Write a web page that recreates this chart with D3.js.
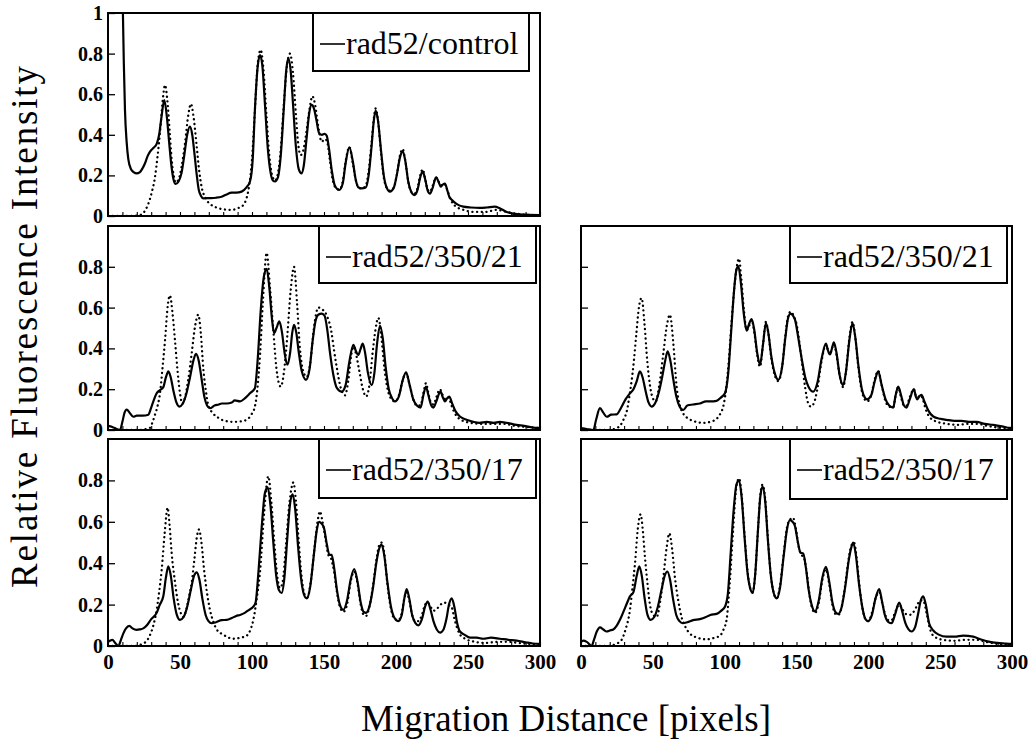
<!DOCTYPE html>
<html><head><meta charset="utf-8">
<script src="https://cdn.jsdelivr.net/npm/d3@7"></script>
<style>
html,body{margin:0;padding:0;background:#fff;}
svg{display:block;}
</style></head>
<body>
<script>
// ---------------- DATA ----------------
const xTicks = d3.range(0, 301, 10);
const xLabelTicks = [0, 50, 100, 150, 200, 250, 300];
const yTicksTop = [0, 0.2, 0.4, 0.6, 0.8, 1];
const yTicksLower = [0, 0.2, 0.4, 0.6, 0.8];
const legendLabels = ["rad52/control", "rad52/350/21", "rad52/350/17"];
const xAxisTitle = "Migration Distance [pixels]";
const yAxisTitle = "Relative Fluorescence Intensity";

// rad52/control (top)
const controlSolid = [[10.3,1.02],[11,0.75],[11.8,0.52],[13,0.36],[14.1,0.28],[16,0.23],[18,0.215],[19.9,0.21],[22,0.215],[24,0.235],[25.7,0.26],[27.5,0.295],[29.2,0.317],[31.5,0.335],[33.8,0.355],[35.5,0.40],[37,0.48],[39.1,0.571],[41,0.48],[42.5,0.36],[44,0.25],[45.5,0.18],[47,0.158],[49,0.17],[51,0.21],[53,0.30],[55,0.40],[56.9,0.44],[58.5,0.40],[60,0.31],[61.5,0.21],[63,0.13],[64.5,0.10],[66.2,0.087],[70,0.088],[75,0.09],[78.9,0.095],[82,0.105],[85.9,0.115],[89,0.115],[92.8,0.12],[96,0.14],[98.6,0.17],[100.5,0.28],[102,0.52],[104,0.74],[105.6,0.793],[107.2,0.74],[109,0.55],[111,0.33],[113,0.21],[114.5,0.175],[116,0.17],[118,0.19],[120,0.30],[122,0.52],[123.8,0.72],[125.2,0.777],[126.8,0.72],[128.5,0.55],[130.5,0.34],[132.5,0.23],[134.4,0.21],[136,0.25],[138,0.39],[139.8,0.51],[141.4,0.547],[143,0.53],[144.8,0.47],[146.5,0.41],[148.5,0.40],[150.5,0.405],[151.9,0.395],[153.5,0.33],[155.5,0.22],[157.5,0.15],[160.6,0.128],[163,0.16],[165,0.26],[167.6,0.338],[170,0.27],[172,0.18],[174,0.14],[176.2,0.136],[179,0.14],[181,0.2],[183,0.34],[184.6,0.47],[185.9,0.519],[187.5,0.47],[189.5,0.33],[191.5,0.2],[193.5,0.14],[195.8,0.12],[198.5,0.14],[200.5,0.2],[202.8,0.29],[204.6,0.32],[206.5,0.27],[208.5,0.17],[210.5,0.12],[212.7,0.103],[215,0.13],[216.8,0.19],[218.5,0.22],[220.3,0.18],[222,0.125],[223.6,0.11],[225.5,0.14],[227.8,0.19],[229.5,0.17],[231,0.145],[232.5,0.155],[234,0.16],[235.5,0.13],[237,0.095],[238.7,0.08],[242,0.06],[246.7,0.046],[252,0.042],[258.3,0.04],[263,0.042],[268.7,0.046],[272,0.038],[276.9,0.02],[281,0.012],[286,0.008],[292,0.006],[300,0.004]];
const controlFit = [[0,0],[15,0],[20,0.002],[23.4,0.008],[26,0.03],[28,0.06],[30.5,0.12],[32.6,0.19],[34.5,0.30],[36.1,0.41],[38,0.57],[39.6,0.645],[41.2,0.57],[42.8,0.42],[44.2,0.28],[45.6,0.2],[47,0.165],[49,0.18],[51,0.24],[53.5,0.36],[55.8,0.50],[57.6,0.552],[59.4,0.49],[61.5,0.35],[63.2,0.23],[65,0.144],[68,0.085],[71.9,0.054],[76,0.04],[80,0.033],[85.9,0.03],[90,0.038],[94,0.054],[96.3,0.09],[97.9,0.144],[100,0.28],[102,0.52],[104,0.75],[106,0.818],[108,0.72],[110,0.5],[112,0.3],[114,0.2],[116,0.175],[118,0.21],[120,0.33],[122,0.54],[124.3,0.74],[126.4,0.80],[128.4,0.71],[130.5,0.5],[132,0.36],[133.8,0.30],[135.5,0.32],[137.5,0.40],[139.8,0.52],[141.9,0.59],[143.8,0.55],[145.8,0.45],[148.4,0.366],[150.5,0.38],[152,0.37],[154,0.28],[156,0.18],[158,0.14],[160.6,0.13],[163,0.17],[165.3,0.28],[167.6,0.34],[170,0.26],[172,0.18],[174,0.14],[176.2,0.135],[179,0.15],[181,0.22],[183,0.36],[184.6,0.48],[185.9,0.53],[187.5,0.47],[189.5,0.32],[191.5,0.19],[193.5,0.14],[195.8,0.125],[198.5,0.14],[200.5,0.2],[202.8,0.3],[204.6,0.33],[206.5,0.27],[208.5,0.17],[210.5,0.12],[212.7,0.11],[215,0.14],[216.8,0.2],[218.5,0.23],[220.3,0.18],[222,0.13],[223.6,0.12],[225.5,0.15],[227.8,0.19],[229.5,0.17],[231,0.15],[232.5,0.16],[234,0.155],[236,0.12],[238,0.08],[241,0.05],[247,0.03],[255,0.02],[262,0.02],[270,0.03],[277,0.02],[285,0.01],[292,0.005],[300,0.003]];

// rad52/350/21 (middle left)
const r21LeftSolid = [[0,0.02],[3,0.015],[6,0.005],[8.3,0],[10,0.04],[11.5,0.085],[13,0.10],[15,0.085],[17.6,0.065],[20,0.07],[24,0.07],[28,0.075],[30,0.11],[32,0.15],[33.8,0.18],[36,0.195],[38.4,0.21],[40.3,0.26],[41.9,0.287],[43.5,0.26],[45.5,0.19],[47.5,0.135],[49.5,0.115],[52,0.13],[54.5,0.18],[57,0.26],[59.3,0.34],[61.1,0.373],[63,0.34],[65,0.25],[67,0.16],[68.8,0.12],[70.8,0.107],[74,0.12],[77,0.125],[79,0.13],[82.4,0.13],[86,0.135],[88,0.145],[91.7,0.14],[95,0.155],[98.6,0.18],[102,0.205],[104,0.35],[106,0.58],[108.2,0.75],[110.2,0.79],[112,0.7],[113.8,0.55],[115.3,0.475],[117,0.5],[119,0.532],[120.8,0.48],[122.6,0.38],[124.5,0.32],[126.5,0.38],[128,0.48],[129.2,0.516],[130.7,0.48],[132.5,0.38],[134.5,0.29],[137.5,0.246],[140,0.30],[142,0.43],[144,0.53],[146,0.565],[148.5,0.57],[150.4,0.56],[152.3,0.49],[154.2,0.377],[156.5,0.27],[159,0.205],[162.3,0.188],[165,0.22],[167.5,0.33],[170.4,0.418],[172,0.39],[173.8,0.368],[175.3,0.395],[176.9,0.423],[178.5,0.38],[180.5,0.28],[183.1,0.22],[185,0.28],[186.8,0.42],[188.9,0.511],[190.8,0.45],[192.8,0.31],[195,0.2],[197,0.16],[199.3,0.14],[202,0.165],[204.5,0.24],[207,0.282],[209.5,0.22],[212,0.15],[214.5,0.12],[217.1,0.11],[219,0.17],[220.8,0.213],[222.5,0.17],[224.5,0.12],[225.9,0.11],[228,0.14],[230,0.18],[231,0.188],[232.5,0.16],[234,0.14],[235.5,0.155],[237,0.164],[239,0.13],[241.5,0.09],[244.4,0.066],[249,0.05],[253.7,0.04],[258,0.035],[263,0.04],[268,0.035],[272,0.04],[277,0.035],[283.8,0.025],[289,0.02],[295,0.012],[300,0.01]];
const r21LeftFit = [[0,0],[20,0],[25,0.003],[29,0.01],[31,0.04],[32.6,0.075],[34.5,0.12],[36.1,0.18],[37.8,0.3],[39.6,0.44],[41.5,0.61],[43,0.66],[44.7,0.58],[46.5,0.44],[48.3,0.29],[50,0.18],[51.6,0.13],[53.5,0.16],[55.8,0.25],[58.1,0.375],[60.5,0.51],[62.7,0.565],[64.5,0.47],[66.2,0.30],[68,0.19],[69.7,0.12],[72.5,0.085],[76.6,0.06],[81,0.045],[87,0.04],[92,0.042],[96.3,0.05],[99.5,0.075],[102,0.115],[104,0.22],[105.6,0.37],[107.5,0.62],[110.2,0.868],[112.5,0.7],[114.8,0.49],[117,0.3],[119.9,0.213],[122.3,0.29],[124.5,0.46],[126.8,0.68],[129.2,0.80],[131.3,0.62],[133.3,0.40],[135.5,0.29],[138,0.26],[140.5,0.33],[143,0.5],[146,0.60],[149,0.59],[152,0.56],[155.3,0.475],[157,0.39],[158.8,0.31],[161.5,0.21],[164.6,0.17],[167,0.25],[169,0.37],[170.4,0.41],[172,0.38],[174.5,0.29],[177,0.2],[179.2,0.164],[181.5,0.22],[183.5,0.36],[185.7,0.49],[187.7,0.55],[189.8,0.46],[192,0.3],[194.5,0.19],[197,0.15],[199.3,0.14],[202,0.17],[204.5,0.24],[207,0.28],[209.5,0.22],[212,0.15],[214.5,0.12],[217,0.12],[219,0.18],[220.8,0.23],[222.5,0.18],[224.5,0.13],[226,0.125],[228,0.16],[230.5,0.2],[232.5,0.17],[234.5,0.15],[236.5,0.16],[238.5,0.12],[241,0.08],[245,0.05],[252,0.035],[260,0.03],[268,0.03],[275,0.03],[283,0.02],[290,0.015],[300,0.01]];

// rad52/350/21 (middle right)
const r21RightSolid = [[0,0.01],[4,0.005],[8.6,0],[10.5,0.05],[13.2,0.107],[15.5,0.085],[17.9,0.065],[21,0.075],[24.8,0.077],[28,0.11],[31,0.15],[34.1,0.18],[36.5,0.2],[38.8,0.24],[41,0.287],[42.8,0.26],[45,0.19],[47,0.135],[49.2,0.115],[51.5,0.13],[54,0.18],[56.5,0.26],[58.6,0.34],[60.3,0.385],[62.2,0.34],[64.2,0.25],[66.5,0.16],[68.6,0.115],[71.2,0.098],[74,0.12],[78,0.125],[82.8,0.13],[87,0.14],[90,0.14],[94.4,0.143],[97.5,0.16],[100.2,0.18],[102.5,0.28],[104.5,0.48],[106.5,0.68],[108,0.78],[109.5,0.803],[111.3,0.72],[113.3,0.57],[115.3,0.487],[117,0.52],[118.8,0.544],[120.6,0.49],[122.6,0.38],[124.6,0.32],[126.7,0.42],[128.7,0.524],[130.3,0.48],[132.5,0.36],[134.8,0.28],[137.3,0.246],[140,0.31],[142.2,0.45],[144.2,0.55],[145.9,0.57],[147.6,0.56],[149,0.54],[151.3,0.45],[153.6,0.35],[156,0.26],[158.5,0.21],[161.7,0.188],[164.5,0.23],[167.5,0.35],[170.5,0.423],[171.9,0.39],[173.3,0.37],[174.7,0.4],[176,0.43],[177.8,0.38],[180,0.27],[182.5,0.22],[184.5,0.29],[186.8,0.44],[189,0.524],[191,0.45],[193,0.32],[195.5,0.2],[197.5,0.16],[199.2,0.15],[202,0.17],[204.5,0.24],[206.9,0.287],[209.3,0.22],[212,0.15],[214.5,0.12],[217.3,0.11],[219,0.17],[220.8,0.213],[222.8,0.17],[224.8,0.12],[226.6,0.11],[228.8,0.15],[231.7,0.20],[233,0.165],[234,0.15],[235.5,0.165],[237,0.172],[239,0.14],[241.8,0.095],[245.2,0.066],[250,0.055],[254.5,0.05],[260,0.045],[265,0.045],[270,0.04],[275.4,0.04],[281,0.03],[287,0.025],[293,0.018],[298.6,0.01],[300,0.01]];
const r21RightFit = [[0,0],[18,0],[22,0.003],[25,0.01],[27.1,0.02],[29.5,0.05],[31.8,0.09],[34,0.18],[36.4,0.31],[38.5,0.47],[40.3,0.6],[42.2,0.647],[44.2,0.52],[46.1,0.34],[48.2,0.21],[50.4,0.15],[52,0.14],[54.5,0.22],[57.3,0.375],[59.7,0.51],[61.9,0.565],[64.2,0.43],[66.6,0.21],[68.8,0.12],[71.2,0.08],[75,0.055],[80,0.04],[85.1,0.035],[90,0.04],[94.4,0.055],[97,0.08],[99,0.115],[101,0.2],[103,0.35],[105,0.55],[107.5,0.75],[110,0.84],[111.6,0.74],[113.5,0.58],[115.3,0.49],[117,0.51],[118.8,0.54],[120.6,0.48],[122.6,0.37],[124.6,0.31],[126.7,0.42],[128.7,0.53],[130.3,0.48],[132.5,0.35],[134.8,0.27],[137.3,0.24],[140,0.31],[142.2,0.46],[144.2,0.56],[146,0.58],[148,0.56],[150,0.52],[152,0.43],[154,0.32],[156,0.21],[158.2,0.13],[160,0.115],[162,0.13],[164.5,0.2],[167.5,0.34],[170.5,0.42],[172,0.39],[173.3,0.37],[174.7,0.4],[176,0.42],[177.8,0.37],[180,0.27],[182.5,0.21],[184.5,0.29],[186.8,0.45],[189,0.53],[191,0.45],[193,0.31],[195.5,0.19],[197.5,0.15],[199.2,0.14],[202,0.17],[204.5,0.25],[206.9,0.29],[209.3,0.22],[212,0.14],[214.5,0.115],[217.3,0.11],[219,0.17],[220.8,0.21],[222.8,0.16],[224.8,0.12],[226.6,0.12],[228.8,0.16],[231.7,0.20],[233,0.17],[234.5,0.16],[236,0.17],[237.5,0.16],[240,0.1],[243,0.06],[248,0.04],[255,0.03],[262,0.025],[270,0.03],[276,0.03],[283,0.02],[290,0.012],[300,0.008]];

// rad52/350/17 (bottom left)
const r17LeftSolid = [[0,0.02],[3,0.03],[5,0.015],[7.2,0],[9,0.03],[10.6,0.06],[12.5,0.085],[14.8,0.097],[17,0.085],[19.9,0.078],[22,0.08],[24.5,0.085],[27,0.1],[30,0.13],[33.8,0.16],[36,0.2],[38.4,0.24],[40.2,0.33],[41.9,0.385],[43.6,0.34],[45.6,0.23],[47.8,0.15],[50,0.126],[52.5,0.14],[55,0.19],[57.5,0.27],[59.8,0.34],[61.6,0.356],[63.5,0.32],[65.5,0.23],[67.8,0.15],[69.8,0.12],[72,0.11],[75,0.115],[79,0.125],[82.4,0.126],[86,0.135],[89,0.145],[91.7,0.15],[95,0.16],[98,0.175],[100.9,0.19],[102.5,0.21],[104.5,0.36],[106.8,0.58],[109,0.74],[110.9,0.766],[112.8,0.68],[114.8,0.5],[116.8,0.34],[118.7,0.27],[120.6,0.256],[122.5,0.33],[124.5,0.52],[126.5,0.69],[128.2,0.733],[130,0.66],[132,0.48],[134,0.33],[136,0.25],[138,0.23],[140.5,0.29],[142.8,0.43],[145,0.56],[146.7,0.60],[148.5,0.59],[150,0.57],[152,0.49],[153.8,0.44],[155.3,0.44],[157,0.38],[159,0.27],[161,0.2],[163.4,0.175],[166,0.22],[168.5,0.32],[171,0.372],[173.3,0.31],[175.5,0.21],[177.5,0.165],[179.2,0.16],[181.5,0.19],[184,0.28],[186.3,0.40],[188.3,0.47],[190,0.49],[191.8,0.44],[194,0.31],[196.5,0.19],[199,0.135],[201.6,0.12],[204,0.15],[205.8,0.23],[207.4,0.275],[209.2,0.23],[211.2,0.15],[213.5,0.11],[215.5,0.10],[218,0.13],[220.2,0.19],[222,0.215],[223.8,0.18],[226,0.12],[228.3,0.08],[230.6,0.065],[233,0.08],[235,0.13],[236.8,0.2],[238.7,0.23],[240.5,0.19],[242.5,0.11],[244.4,0.07],[247.5,0.055],[251.4,0.04],[256,0.04],[260.6,0.035],[266,0.04],[272.2,0.035],[278,0.03],[283.8,0.026],[290,0.018],[295,0.012],[300,0.01]];
const r17LeftFit = [[0,0],[18,0],[22,0.005],[24.5,0.012],[26.9,0.025],[29,0.05],[31.5,0.1],[33.8,0.175],[35.5,0.26],[37.3,0.37],[39.3,0.54],[41.4,0.668],[42.8,0.58],[44.2,0.45],[46.5,0.31],[48.6,0.21],[50.5,0.16],[52.3,0.14],[54.5,0.18],[56.3,0.24],[58,0.30],[60,0.42],[61.8,0.53],[63.2,0.563],[64.9,0.5],[66.7,0.37],[68.7,0.26],[70.8,0.175],[73,0.12],[75.5,0.08],[80,0.055],[87,0.035],[92,0.04],[96.3,0.05],[99,0.08],[100.9,0.125],[103.3,0.23],[105.6,0.36],[108.5,0.65],[111.3,0.82],[113.5,0.69],[115.5,0.5],[117.5,0.34],[119.4,0.28],[121.3,0.31],[123.5,0.48],[126,0.69],[128.7,0.79],[130.5,0.7],[132.5,0.5],[134.5,0.33],[136.5,0.25],[138.5,0.235],[141,0.32],[143.5,0.48],[145.5,0.6],[147.2,0.65],[149,0.6],[151,0.52],[153,0.44],[155,0.42],[157,0.36],[159,0.26],[161,0.19],[163.4,0.165],[166,0.2],[168.5,0.31],[171,0.36],[173.3,0.3],[175.5,0.2],[177.5,0.15],[179.2,0.145],[181.5,0.19],[184,0.29],[186.5,0.42],[188.5,0.49],[190.3,0.5],[192,0.44],[194,0.3],[196.5,0.18],[199,0.13],[201.6,0.125],[204,0.16],[205.8,0.23],[207.4,0.26],[209.2,0.22],[211.2,0.15],[213.5,0.12],[215.5,0.12],[218,0.15],[220.2,0.2],[222,0.21],[224,0.19],[226,0.17],[228.5,0.18],[231,0.2],[233.5,0.21],[236,0.2],[238.5,0.19],[241,0.12],[244,0.06],[248,0.035],[255,0.02],[262,0.015],[270,0.02],[278,0.02],[285,0.015],[292,0.01],[300,0.008]];

// rad52/350/17 (bottom right)
const r17RightSolid = [[0,0.02],[1.6,0.026],[4,0.02],[7.4,0],[9,0.03],[11,0.07],[13.2,0.09],[15.5,0.08],[17.9,0.07],[20,0.075],[22.5,0.08],[25,0.1],[28,0.14],[31,0.19],[34.1,0.24],[36.5,0.26],[38.8,0.34],[40.6,0.385],[42.3,0.34],[44.3,0.23],[46.3,0.15],[48.5,0.126],[51,0.14],[53.5,0.19],[56,0.27],[58.3,0.34],[60.1,0.36],[62,0.32],[64,0.23],[66.3,0.15],[68.5,0.12],[70.8,0.11],[74,0.115],[78,0.125],[82.8,0.13],[87,0.14],[90,0.15],[94.4,0.155],[97.5,0.17],[100.2,0.19],[102.2,0.25],[104.2,0.45],[106.3,0.66],[108.2,0.78],[110,0.80],[111.8,0.72],[113.8,0.53],[115.8,0.36],[117.7,0.28],[119.5,0.256],[121.3,0.35],[123,0.54],[124.8,0.72],[126.4,0.77],[128.2,0.70],[130,0.52],[132,0.35],[134,0.26],[136.2,0.23],[138.5,0.28],[141,0.43],[143.3,0.56],[145.4,0.608],[147.2,0.6],[148.9,0.58],[151,0.5],[152.8,0.45],[154.7,0.447],[156.5,0.38],[158.5,0.27],[160.5,0.2],[162.8,0.167],[165.5,0.22],[168,0.33],[170.5,0.382],[172.8,0.31],[175,0.21],[177,0.165],[179,0.155],[181.5,0.19],[184,0.29],[186.5,0.42],[188.3,0.48],[189.5,0.50],[191.3,0.44],[193.5,0.3],[196,0.18],[198,0.13],[199.9,0.12],[202.5,0.15],[205,0.23],[207.6,0.275],[209.4,0.22],[211.5,0.15],[214,0.115],[216.2,0.11],[218.5,0.15],[221.5,0.21],[223.5,0.17],[225.8,0.11],[228,0.08],[230.1,0.07],[232.5,0.09],[234.5,0.15],[236.5,0.22],[238.2,0.24],[240,0.2],[242.3,0.11],[245.2,0.075],[249,0.055],[254.5,0.045],[260,0.045],[266,0.05],[273,0.045],[279,0.03],[284.6,0.02],[290,0.015],[295,0.012],[298.6,0.01],[300,0.01]];
const r17RightFit = [[0,0],[18,0],[22,0.004],[25,0.012],[28.3,0.03],[31,0.08],[34.1,0.175],[35.8,0.28],[37.6,0.40],[39.6,0.57],[41.5,0.636],[43,0.56],[44.5,0.43],[46.3,0.3],[48,0.2],[50.3,0.15],[52.7,0.14],[55,0.21],[57.3,0.33],[59.5,0.47],[61.5,0.544],[63.4,0.47],[65.4,0.33],[67.7,0.22],[70,0.14],[72.8,0.09],[75.8,0.06],[81,0.04],[87.5,0.032],[92,0.038],[96.8,0.05],[99.2,0.08],[101.4,0.13],[103.5,0.3],[105.8,0.55],[108,0.76],[110,0.81],[111.8,0.73],[113.8,0.54],[115.8,0.37],[117.7,0.28],[119.5,0.26],[121.3,0.35],[123,0.54],[124.8,0.73],[126.4,0.78],[128.2,0.71],[130,0.53],[132,0.35],[134,0.26],[136.2,0.23],[138.5,0.29],[141,0.44],[143.3,0.57],[145.5,0.61],[147.5,0.62],[149.5,0.57],[151.5,0.48],[153.5,0.44],[155,0.43],[157,0.36],[159,0.25],[161,0.18],[163,0.16],[165.5,0.21],[168,0.32],[170.5,0.37],[172.8,0.3],[175,0.2],[177,0.155],[179,0.15],[181.5,0.19],[184,0.3],[186.5,0.43],[188.5,0.49],[190,0.5],[191.8,0.43],[193.8,0.29],[196,0.18],[198,0.13],[200,0.12],[202.5,0.16],[205,0.23],[207.6,0.26],[209.6,0.21],[211.8,0.15],[214,0.125],[216.2,0.125],[218.5,0.16],[221.5,0.2],[223.5,0.18],[226,0.155],[228.5,0.15],[231,0.16],[233.5,0.19],[236,0.22],[238.2,0.22],[240.5,0.16],[243,0.08],[246,0.045],[252,0.03],[260,0.025],[268,0.03],[275,0.03],[282,0.02],[290,0.01],[300,0.005]];

// ---------------- LAYOUT ----------------
const W = 1031, H = 748;
const panels = [
  {x0:108, x1:540,  y0:13,  y1:216, solid:controlSolid, fit:controlFit, label:legendLabels[0], yTicks:yTicksTop,   yLab:true,  xLab:false, box:[313,13,216,58]},
  {x0:108, x1:540,  y0:226, y1:430, solid:r21LeftSolid, fit:r21LeftFit, label:legendLabels[1], yTicks:yTicksLower, yLab:true,  xLab:false, box:[319,226,217,57]},
  {x0:108, x1:540,  y0:439, y1:646, solid:r17LeftSolid, fit:r17LeftFit, label:legendLabels[2], yTicks:yTicksLower, yLab:true,  xLab:true,  box:[319,439,217,59]},
  {x0:581, x1:1012, y0:226, y1:430, solid:r21RightSolid, fit:r21RightFit, label:legendLabels[1], yTicks:yTicksLower, yLab:false, xLab:false, box:[790,226,217,57]},
  {x0:581, x1:1012, y0:439, y1:646, solid:r17RightSolid, fit:r17RightFit, label:legendLabels[2], yTicks:yTicksLower, yLab:false, xLab:true,  box:[790,439,217,60]}
];

const FONT = "'Liberation Serif','Times New Roman',serif";
const svg = d3.select("body").append("svg").attr("width", W).attr("height", H)
  .style("font-family", FONT);

const fmtY = d => d === 0 ? "0" : d === 1 ? "1" : d3.format(".1f")(d);

panels.forEach((p, i) => {
  const x = d3.scaleLinear().domain([0, 300]).range([p.x0, p.x1]);
  const y = d3.scaleLinear().domain([0, 1]).range([p.y1, p.y0]);
  const clipId = "clip" + i;
  svg.append("clipPath").attr("id", clipId).append("rect")
    .attr("x", p.x0).attr("y", p.y0).attr("width", p.x1 - p.x0).attr("height", p.y1 - p.y0);

  const line = d3.line().x(d => x(d[0])).y(d => y(d[1])).curve(d3.curveMonotoneX);
  const g = svg.append("g").attr("clip-path", `url(#${clipId})`);
  g.append("path").datum(p.fit).attr("d", line)
    .attr("fill", "none").attr("stroke", "#000").attr("stroke-width", 2.3)
    .attr("stroke-linecap", "round").attr("stroke-dasharray", "0.1,4.6");
  g.append("path").datum(p.solid).attr("d", line)
    .attr("fill", "none").attr("stroke", "#000").attr("stroke-width", 2.2)
    .attr("stroke-linejoin", "round");

  // y axis (inward ticks)
  const ya = svg.append("g").attr("transform", `translate(${p.x0},0)`)
    .call(d3.axisLeft(y).tickValues(p.yTicks).tickSize(-7).tickPadding(5)
      .tickFormat(p.yLab ? fmtY : () => ""));
  ya.select(".domain").remove();
  ya.selectAll("line").attr("stroke-width", 1.3);
  ya.selectAll("text").attr("font-size", 20).attr("font-weight", "bold").attr("fill", "#000")
    .attr("font-family", FONT);

  // x axis: minor inward ticks every 10
  const xa = svg.append("g").attr("transform", `translate(0,${p.y1})`)
    .call(d3.axisBottom(x).tickValues(xTicks).tickSize(-4).tickFormat(() => ""));
  xa.select(".domain").remove();
  xa.selectAll("line").attr("stroke-width", 1.1);

  if (p.xLab) {
    const xl = svg.append("g").attr("transform", `translate(0,${p.y1})`)
      .call(d3.axisBottom(x).tickValues(xLabelTicks).tickSize(0).tickPadding(8)
        .tickFormat(d => String(d)));
    xl.select(".domain").remove();
    xl.selectAll("text").attr("font-size", 21).attr("font-weight", "bold").attr("fill", "#000")
      .attr("font-family", FONT);
  }

  // frame
  svg.append("rect").attr("x", p.x0).attr("y", p.y0)
    .attr("width", p.x1 - p.x0).attr("height", p.y1 - p.y0)
    .attr("fill", "none").attr("stroke", "#000").attr("stroke-width", 2);

  // legend box
  const [bx, by, bw, bh] = p.box;
  svg.append("rect").attr("x", bx).attr("y", by).attr("width", bw).attr("height", bh)
    .attr("fill", "#fff").attr("stroke", "#000").attr("stroke-width", 2);
  const base = by + 41;
  svg.append("line").attr("x1", bx + 7).attr("x2", bx + 32)
    .attr("y1", base - 10).attr("y2", base - 10)
    .attr("stroke", "#000").attr("stroke-width", 1.6);
  svg.append("text").attr("x", bx + 33).attr("y", base)
    .attr("font-size", 32).attr("fill", "#000").text(p.label);
});

// axis titles
svg.append("text")
  .attr("transform", "translate(37,327) rotate(-90)")
  .attr("text-anchor", "middle").attr("font-size", 37)
  .attr("textLength", 522).attr("lengthAdjust", "spacing")
  .text(yAxisTitle);
svg.append("text")
  .attr("x", 566).attr("y", 731)
  .attr("text-anchor", "middle").attr("font-size", 37)
  .attr("textLength", 410).attr("lengthAdjust", "spacing")
  .text(xAxisTitle);
</script>
</body></html>
